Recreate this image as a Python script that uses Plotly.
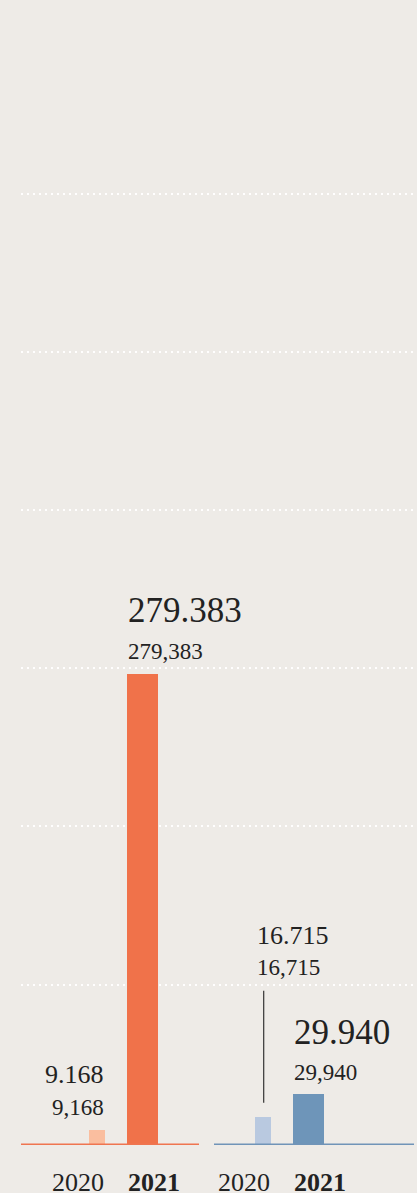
import plotly.graph_objects as go

# ---------------- data ----------------
YEARS = ["2020", "2021"]
VALUES_LEFT = [9168, 279383]
VALUES_RIGHT = [16715, 29940]
BIG_LABELS_LEFT = ["9.168", "279.383"]
SMALL_LABELS_LEFT = ["9,168", "279,383"]
BIG_LABELS_RIGHT = ["16.715", "29.940"]
SMALL_LABELS_RIGHT = ["16,715", "29,940"]

# ---------------- layout / style ----------------
W, H = 417, 1193
BG = "#EEEBE7"
TEXT = "#222222"
FONT = "Liberation Serif"
PX_PER_UNIT = 0.0016875          # vertical scale (px per data unit)
MARGIN_B = 48
Y_MAX = (H - MARGIN_B) / PX_PER_UNIT
GRID0, GRID_STEP, N_GRID = 95000, 93750, 6

# horizontal slots (x axis in pixel-like units)
X_LEFT_EDGE = 21
SLOT_CENTERS_LEFT = [97, 142.5]
SLOT_CENTERS_RIGHT = [263, 308.5]
SLOT_WIDTHS = [16, 31]
BASE_LEFT = (21, 199)
BASE_RIGHT = (214, 414)

COLORS_LEFT = ["#FABE9F", "#F0724A"]
COLORS_RIGHT = ["#B9C9E0", "#6E95B9"]
BASE_COLOR_LEFT = "#EF7550"
BASE_COLOR_RIGHT = "#7094B8"

BIG_SIZES = [26, 35]
SMALL_SIZE = 23
AXIS_SIZE = 26

fig = go.Figure()
for centers, vals, cols in [(SLOT_CENTERS_LEFT, VALUES_LEFT, COLORS_LEFT),
                            (SLOT_CENTERS_RIGHT, VALUES_RIGHT, COLORS_RIGHT)]:
    fig.add_trace(go.Bar(x=centers, y=vals, width=SLOT_WIDTHS,
                         marker=dict(color=cols, line=dict(width=0)),
                         hoverinfo="skip", showlegend=False))

# baselines
for (x0, x1), c in [(BASE_LEFT, BASE_COLOR_LEFT), (BASE_RIGHT, BASE_COLOR_RIGHT)]:
    fig.add_shape(type="line", xref="x", yref="y", x0=x0, x1=x1, y0=0, y1=0,
                  line=dict(color=c, width=2.8), layer="above")

ann = []

def add_text(x, y, text, size, xanchor, yshift):
    ann.append(dict(x=x, y=y, xref="x", yref="y", text=text, showarrow=False,
                    xanchor=xanchor, yanchor="middle", yshift=yshift,
                    borderpad=0, font=dict(family=FONT, size=size, color=TEXT)))

# value labels
# left panel
for i in range(2):
    c, w, v = SLOT_CENTERS_LEFT[i], SLOT_WIDTHS[i], VALUES_LEFT[i]
    if i == 0:
        xa, xpos = "right", c + w / 2
        add_text(xpos, v, SMALL_LABELS_LEFT[i], SMALL_SIZE, xa, 22)
        add_text(xpos, v, BIG_LABELS_LEFT[i], BIG_SIZES[i], xa, 55)
    else:
        xa, xpos = "left", c - w / 2
        add_text(xpos, v, SMALL_LABELS_LEFT[i], SMALL_SIZE, xa, 22)
        add_text(xpos, v, BIG_LABELS_LEFT[i], BIG_SIZES[i], xa, 63)

# right panel
c, w, v = SLOT_CENTERS_RIGHT[0], SLOT_WIDTHS[0], VALUES_RIGHT[0]
LEAD_LOW, LEAD_HIGH = 14, 126
fig.add_shape(type="line", xref="x", yref="y", x0=c + 0.7, x1=c + 0.7,
              y0=v + LEAD_LOW / PX_PER_UNIT, y1=v + LEAD_HIGH / PX_PER_UNIT,
              line=dict(color="#333333", width=1.2))
add_text(c - w / 2 + 1, v, SMALL_LABELS_RIGHT[0], SMALL_SIZE, "left", 149)
add_text(c - w / 2 + 1, v, BIG_LABELS_RIGHT[0], BIG_SIZES[0], "left", 181)

c, w, v = SLOT_CENTERS_RIGHT[1], SLOT_WIDTHS[1], VALUES_RIGHT[1]
add_text(c - w / 2, v, SMALL_LABELS_RIGHT[1], SMALL_SIZE, "left", 22)
add_text(c - w / 2, v, BIG_LABELS_RIGHT[1], BIG_SIZES[1], "left", 62)

# year labels
for centers in (SLOT_CENTERS_LEFT, SLOT_CENTERS_RIGHT):
    add_text(centers[0] + SLOT_WIDTHS[0] / 2, 0, YEARS[0], AXIS_SIZE, "right", -37)
    add_text(centers[1] - SLOT_WIDTHS[1] / 2, 0, "<b>" + YEARS[1] + "</b>", AXIS_SIZE, "left", -37)

fig.update_layout(
    width=W, height=H,
    margin=dict(l=X_LEFT_EDGE, r=0, t=0, b=MARGIN_B),
    paper_bgcolor=BG, plot_bgcolor=BG,
    bargap=0,
    annotations=ann,
    xaxis=dict(range=[X_LEFT_EDGE, W], showgrid=False, zeroline=False,
               showticklabels=False, fixedrange=True),
    yaxis=dict(range=[0, Y_MAX], tickmode="array",
               tickvals=[GRID0 + k * GRID_STEP for k in range(N_GRID)],
               showticklabels=False, zeroline=False, showgrid=True,
               gridcolor="rgba(255,255,255,0.95)", gridwidth=1.6,
               griddash="2px,4px", fixedrange=True),
)

fig.write_html("out.html", config={"displayModeBar": False},
               post_script="document.body.style.margin='0';document.body.style.overflow='hidden';document.body.style.background='%s';" % BG)
